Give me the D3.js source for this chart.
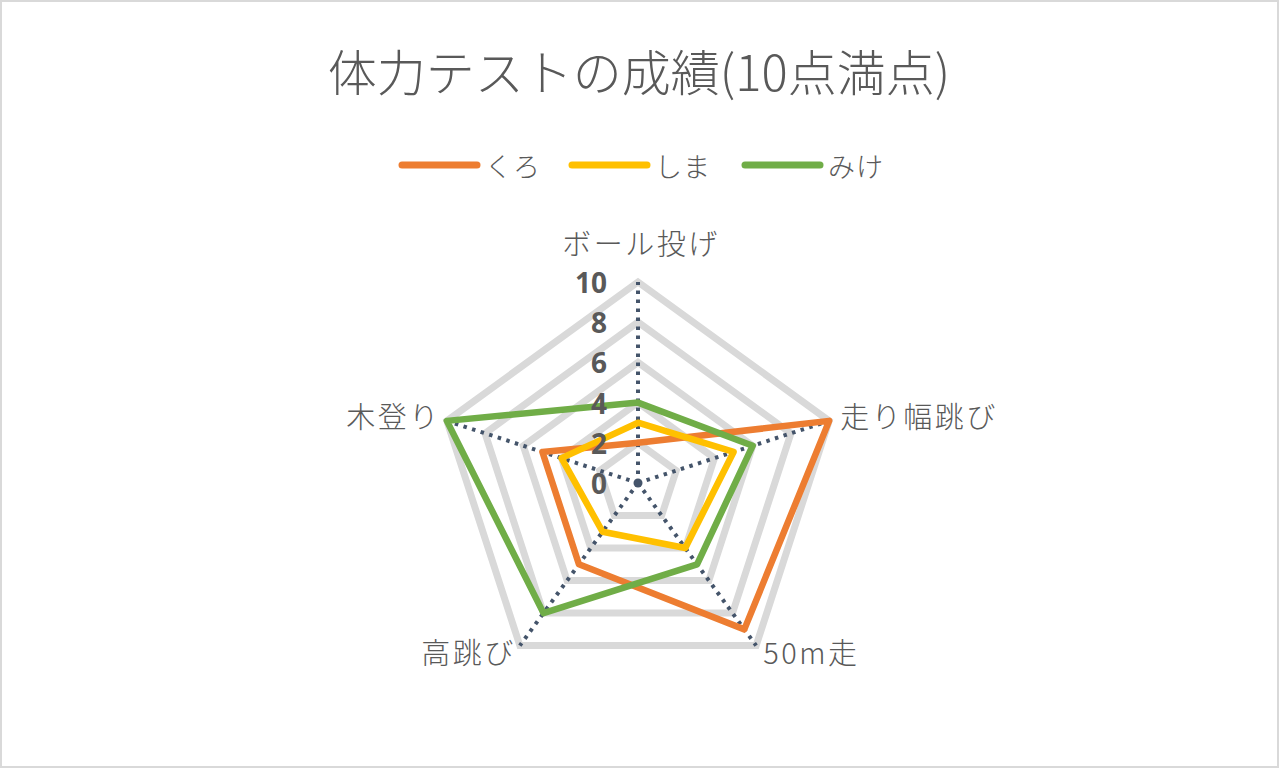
<!DOCTYPE html>
<html>
<head>
<meta charset="utf-8">
<script src="https://cdn.jsdelivr.net/npm/d3@7"></script>
<style>
  body { margin: 0; background: #fff; }
  text { font-family: "Noto Sans CJK JP", "Noto Sans", sans-serif; fill: #595959; font-weight: 300; }
</style>
</head>
<body>
<div class="chart"></div>
<script>
var width = 1280
var height = 769

var categories = ['ボール投げ', '走り幅跳び', '50m走', '高跳び', '木登り']
var seriesNames = ['くろ', 'しま', 'みけ']
var kuro = [2, 10, 9, 5, 5]
var shima = [3, 5, 4, 3, 4]
var mike = [4, 6, 5, 8, 10]
var tickValues = [0, 2, 4, 6, 8, 10]
var colors = ['#ED7D31', '#FFC000', '#70AD47']

var cx = 638
var cy = 483
var radius = 201

var svg = d3.select('.chart').append('svg')
    .attr('width', width)
    .attr('height', height)

svg.append('rect')
    .attr('x', 1).attr('y', 1)
    .attr('width', width - 3).attr('height', height - 3)
    .attr('fill', '#fff')
    .attr('stroke', '#D9D9D9')
    .attr('stroke-width', 2)

// title
svg.append('text')
    .attr('x', 639)
    .attr('y', 69)
    .attr('text-anchor', 'middle')
    .attr('dominant-baseline', 'central')
    .style('font-size', '49px')
    .text('体力テストの成績(10点満点)')

// legend
var legendX = [402, 572, 745]
var legend = svg.selectAll('.legend').data(seriesNames).enter().append('g')
    .attr('transform', (d, i) => 'translate(' + legendX[i] + ',165)')
legend.append('line')
    .attr('x1', 0).attr('x2', 75)
    .attr('stroke', (d, i) => colors[i])
    .attr('stroke-width', 7)
    .attr('stroke-linecap', 'round')
legend.append('text')
    .attr('x', 83)
    .attr('y', 0)
    .attr('dominant-baseline', 'central')
    .style('font-size', '27px')
    .style('letter-spacing', '1px')
    .text(d => d)

var scaleR = d3.scaleLinear().domain([0, 10]).range([0, radius])
var scaleAngle = d3.scalePoint().domain(categories).range([0, 2 * Math.PI * 4 / 5])

function point(cat, v) {
    var a = scaleAngle(cat) - Math.PI / 2
    return [cx + scaleR(v) * Math.cos(a), cy + scaleR(v) * Math.sin(a)]
}

var line = d3.line().curve(d3.curveLinearClosed)

// grid rings
svg.append('g').selectAll('path')
    .data(tickValues.filter(t => t > 0))
    .enter().append('path')
    .attr('d', t => line(categories.map(c => point(c, t))))
    .attr('fill', 'none')
    .attr('stroke', '#D9D9D9')
    .attr('stroke-width', 7)
    .attr('stroke-linejoin', 'miter')

// spokes
svg.append('g').selectAll('line')
    .data(categories)
    .enter().append('line')
    .attr('x1', cx).attr('y1', cy)
    .attr('x2', c => point(c, 10)[0])
    .attr('y2', c => point(c, 10)[1])
    .attr('stroke', '#44546A')
    .attr('stroke-width', 4)
    .attr('stroke-dasharray', '3.5 5.5')
svg.append('circle')
    .attr('cx', cx).attr('cy', cy).attr('r', 4.5)
    .attr('fill', '#44546A')

// series
var allSeries = [kuro, shima, mike]
svg.append('g').selectAll('path')
    .data(allSeries)
    .enter().append('path')
    .attr('d', s => line(categories.map((c, i) => point(c, s[i]))))
    .attr('fill', 'none')
    .attr('stroke', (d, i) => colors[i])
    .attr('stroke-width', 6.5)
    .attr('stroke-linejoin', 'round')

// tick labels
svg.append('g').selectAll('text')
    .data(tickValues)
    .enter().append('text')
    .attr('x', 607)
    .attr('y', t => cy - scaleR(t))
    .attr('text-anchor', 'end')
    .attr('dominant-baseline', 'central')
    .style('font-size', '28px')
    .style('font-weight', 'bold')
    .style('font-family', '"Open Sans", "Noto Sans", sans-serif')
    .text(t => t)

// category labels
svg.append('g').selectAll('text')
    .data(categories)
    .enter().append('text')
    .attr('x', c => {
        var p = point(c, 10)
        var a = scaleAngle(c) - Math.PI / 2
        var dx = Math.cos(a)
        var dy = Math.sin(a)
        if (dx > 0.1) return p[0] + (dy > 0.5 ? 7 : 11)
        if (dx < -0.1) return p[0] - (dy > 0.5 ? 4 : 6)
        return p[0] + 3
    })
    .attr('y', c => {
        var p = point(c, 10)
        var a = scaleAngle(c) - Math.PI / 2
        var dy = Math.sin(a)
        return p[1] + (dy < -0.9 ? -40 : dy > 0.5 ? 5 : -6)
    })
    .attr('text-anchor', c => {
        var dx = Math.cos(scaleAngle(c) - Math.PI / 2)
        return dx > 0.1 ? 'start' : dx < -0.1 ? 'end' : 'middle'
    })
    .attr('dominant-baseline', 'central')
    .style('font-size', '29px')
    .style('letter-spacing', '2.5px')
    .text(c => c)
</script>
</body>
</html>
